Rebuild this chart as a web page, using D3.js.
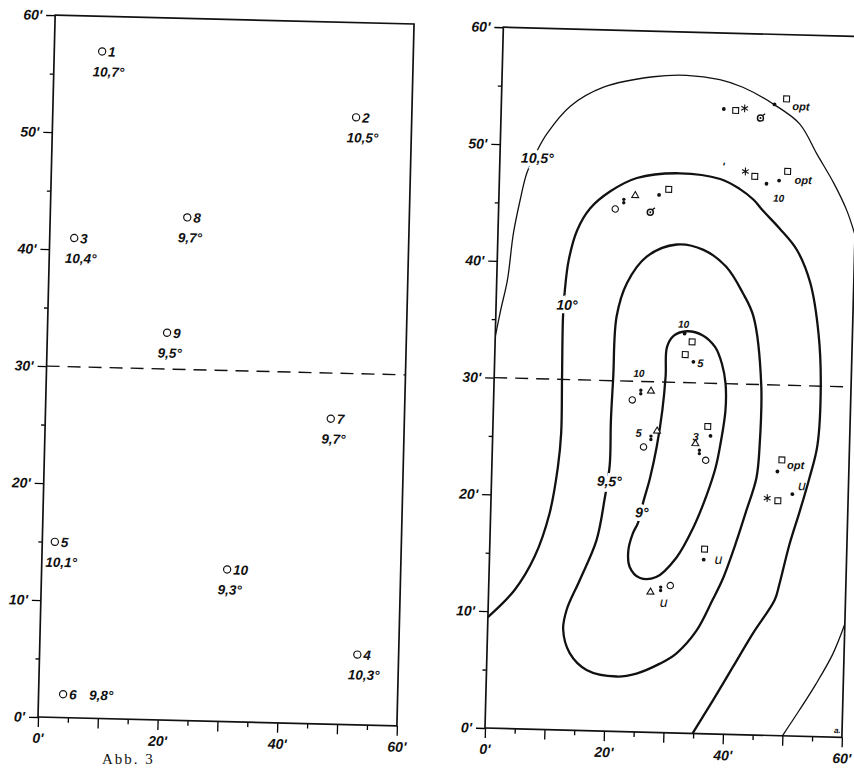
<!DOCTYPE html>
<html>
<head>
<meta charset="utf-8">
<script src="https://cdn.jsdelivr.net/npm/d3@7"></script>
<style>
  body { margin: 0; background: #fff; }
  svg text { font-family: "Liberation Sans", Arial, sans-serif; font-style: italic; font-weight: bold; fill: #111; }
  .tick text { font-size: 14px; }
  .tick line { stroke-width: 1.3; }
</style>
</head>
<body>
<svg id="chart" width="854" height="768"></svg>
<script>
// left panel: stations (minutes of arc) and their temperatures
const stationIds = ['1', '2', '3', '4', '5', '6', '7', '8', '9', '10'];
const stationX = [8.0, 50.7, 4.1, 53.1, 2.1, 4.1, 47.7, 22.9, 20.0, 31.0];
const stationY = [57.0, 51.9, 41.0, 6.0, 15.0, 2.0, 26.1, 43.0, 33.1, 13.0];
const stationTemp = ['10,7°', '10,5°', '10,4°', '10,3°', '10,1°', '9,8°', '9,7°', '9,7°', '9,5°', '9,3°'];

const majorTicks = [0, 10, 20, 30, 40, 50, 60];
const minorTicks = [5, 15, 25, 35, 45, 55];
const xLabelTicks = [0, 20, 40, 60];
const splitLat = 30;

// right panel: isotherms
const iso105Upper = [[0, 33.5], [0.8, 35.8], [1.8, 38.4], [2.6, 42.4], [3.6, 45.3], [4.6, 47.6], [6.2, 49.5], [7.8, 51.0],
  [11.6, 53.4], [17.1, 55.1], [25.4, 56.1], [31.0, 56.3], [36.6, 56.0], [40.5, 55.4], [45.8, 54.0], [50.2, 52.4],
  [53.3, 49.8], [56.2, 47.4], [58.5, 45.1], [60, 43.0]];
const iso105Lower = [[50.0, 0], [52.7, 2.2], [55.4, 4.5], [58.1, 7.1], [60, 9.7]];
const iso10 = [[0, 9.5], [4.4, 11.9], [7.6, 14.8], [9.9, 18.5], [11.1, 22.5], [11.5, 25.4], [11.4, 30.2], [11.3, 35.4],
  [11.5, 37.7], [12.0, 40.2], [13.3, 42.8], [15.4, 44.7], [18.7, 46.2], [23.1, 47.4], [30.3, 47.9], [37.1, 47.5],
  [40.4, 46.7], [42.8, 45.8], [44.4, 44.9], [47.3, 43.4], [50.3, 41.6], [52.7, 38.8], [54.3, 34.5], [54.9, 30.2],
  [54.6, 24.9], [53.4, 22.1], [51.9, 19.2], [50.3, 16.3], [48.8, 12.9], [48.1, 11.6], [44.6, 8.7], [41.4, 5.8],
  [38.2, 2.9], [34.9, 0]];
const iso95 = [[20.0, 30.3], [20.3, 35.5], [21.9, 38.4], [25.1, 40.7], [30.1, 41.8], [34.6, 41.4], [38.5, 40.0],
  [41.4, 37.8], [43.3, 35.8], [44.9, 30.0], [44.9, 24.8], [44.5, 22.0], [42.9, 19.1], [41.4, 16.5], [39.3, 13.3],
  [37.7, 11.5], [35.1, 8.8], [31.8, 6.8], [29.1, 5.9], [25.2, 5.0], [21.9, 4.7], [16.8, 5.2], [13.9, 6.6],
  [12.7, 8.6], [13.2, 10.3], [15.3, 12.9], [17.9, 16.3], [19.1, 19.9], [19.8, 22.8], [19.8, 26.6]];
const iso9 = [[28.8, 30.5], [28.9, 33.0], [30.0, 34.0], [32.2, 34.4], [34.8, 34.1], [37.0, 33.1], [38.2, 31.7],
  [38.9, 30.0], [39.0, 27.7], [38.3, 24.8], [37.6, 22.8], [36.2, 20.4], [34.1, 17.6], [31.4, 15.0], [28.1, 13.3],
  [25.3, 13.2], [23.6, 14.1], [23.3, 15.5], [24.0, 17.0], [24.8, 17.9], [25.6, 19.7], [26.6, 21.7], [27.6, 24.4],
  [28.4, 27.6]];
const isoLabels = [['10,5°', 6.3, 48.9], ['10°', 11.9, 36.4], ['9,5°', 19.8, 21.4], ['9°', 25.4, 18.8]];

// right panel: observation symbols
const markers = [
  ['dot', 37.4, 53.5], ['square', 39.4, 53.4], ['star', 40.9, 53.6], ['theta', 43.6, 52.8], ['dot', 45.9, 54.0], ['square', 47.9, 54.5],
  ['star', 41.3, 48.2], ['square', 42.9, 47.8], ['dot', 44.9, 47.2], ['dot', 47.0, 47.5], ['square', 48.4, 48.3],
  ['circle', 19.6, 44.7], ['eight', 21.0, 45.4], ['triangle', 22.9, 45.9], ['theta', 25.5, 44.5], ['dot', 26.9, 46.0], ['square', 28.5, 46.5],
  ['dot', 31.8, 34.2], ['square', 33.1, 33.5], ['square', 32.0, 32.4], ['dot', 33.4, 31.8],
  ['eight', 24.7, 29.1], ['triangle', 26.4, 29.2], ['circle', 23.3, 28.4],
  ['triangle', 27.6, 25.8], ['eight', 26.6, 25.2], ['circle', 25.4, 24.4],
  ['square', 36.1, 26.3], ['dot', 36.6, 25.5], ['triangle', 34.1, 24.8], ['eight', 34.8, 24.1], ['circle', 35.9, 23.4],
  ['square', 48.7, 23.6], ['dot', 48.0, 22.6], ['dot', 50.6, 20.7], ['star', 46.4, 20.3], ['square', 48.2, 20.1],
  ['square', 36.1, 15.8], ['dot', 36.0, 14.9],
  ['triangle', 27.2, 12.0], ['eight', 28.9, 12.3], ['circle', 30.5, 12.6]
];
const markerNotes = [
  ['opt', 48.9, 53.9], ['opt', 49.6, 47.6], ["'", 37.6, 48.6], ['10', 47.0, 46.0], ['10', 31.6, 35.0], ['5', 34.6, 31.7],
  ['10', 24.3, 30.7], ['5', 24.5, 25.6], ['3', 34.1, 25.4], ['opt', 49.6, 23.2], ['u', 52.2, 21.5],
  ['u', 38.5, 15.0], ['u', 29.5, 11.2], ['a.', 59.2, 0.6]
];

const svg = d3.select('#chart');
svg.append('rect').attr('width', 854).attr('height', 768).attr('fill', '#fff');

// one framed 60'x60' panel, slightly tilted like the scan
function makePanel(ox, oy, w, h, angle, id) {
  const g = svg.append('g').attr('transform', `translate(${ox},${oy}) rotate(${angle}) translate(0,${-h})`);
  const x = d3.scaleLinear().domain([0, 60]).range([0, w]);
  const y = d3.scaleLinear().domain([0, 60]).range([h, 0]);

  g.append('clipPath').attr('id', id).append('rect').attr('width', w).attr('height', h);

  g.append('g').attr('transform', `translate(0,${h})`)
    .call(d3.axisBottom(x).tickValues(minorTicks).tickSize(5).tickFormat(''))
    .call(a => a.select('.domain').remove());
  g.append('g').attr('transform', `translate(0,${h})`)
    .call(d3.axisBottom(x).tickValues(majorTicks).tickSize(10).tickPadding(6)
      .tickFormat(d => xLabelTicks.includes(d) ? d + "'" : ''))
    .call(a => a.select('.domain').remove());
  g.append('g')
    .call(d3.axisLeft(y).tickValues(minorTicks).tickSize(4).tickFormat(''))
    .call(a => a.select('.domain').remove());
  g.append('g')
    .call(d3.axisLeft(y).tickValues(majorTicks).tickSize(9).tickPadding(4).tickFormat(d => d + "'"))
    .call(a => a.select('.domain').remove());

  g.append('rect').attr('width', w).attr('height', h)
    .attr('fill', 'none').attr('stroke', '#111').attr('stroke-width', 1.7);

  g.append('line')
    .attr('x1', x(0)).attr('x2', x(60)).attr('y1', y(splitLat)).attr('y2', y(splitLat))
    .attr('stroke', '#111').attr('stroke-width', 1.4).attr('stroke-dasharray', '13,8');

  return { g, x, y };
}

// ---- left panel: stations
const L = makePanel(38, 717, 359, 702, 1.4, 'clipL');
const st = L.g.append('g');
stationIds.forEach((id, i) => {
  const cx = L.x(stationX[i]), cy = L.y(stationY[i]);
  st.append('circle').attr('cx', cx).attr('cy', cy).attr('r', 3.6)
    .attr('fill', '#fff').attr('stroke', '#111').attr('stroke-width', 1.2);
  st.append('text').attr('x', cx + 6).attr('y', cy + 5).attr('font-size', 13.5).text(id);
  const inline = id === '6';
  st.append('text')
    .attr('x', inline ? cx + 26 : cx - 9)
    .attr('y', inline ? cy + 5 : cy + 25)
    .attr('font-size', 13.5).text(stationTemp[i]);
});

// ---- right panel: isotherms and observations
const R = makePanel(485, 728, 357, 701, 1.5, 'clipR');
const iso = R.g.append('g').attr('clip-path', 'url(#clipR)').attr('fill', 'none').attr('stroke', '#111');
const open = d3.line().x(d => R.x(d[0])).y(d => R.y(d[1])).curve(d3.curveCatmullRom);
const closed = d3.line().x(d => R.x(d[0])).y(d => R.y(d[1])).curve(d3.curveCatmullRomClosed);

iso.append('path').attr('d', open(iso105Upper)).attr('stroke-width', 1.3);
iso.append('path').attr('d', open(iso105Lower)).attr('stroke-width', 1.3);
iso.append('path').attr('d', open(iso10)).attr('stroke-width', 2.3);
iso.append('path').attr('d', closed(iso95)).attr('stroke-width', 2.3);
iso.append('path').attr('d', closed(iso9)).attr('stroke-width', 2.3);

R.g.append('g').selectAll('text').data(isoLabels).join('text')
  .attr('x', d => R.x(d[1])).attr('y', d => R.y(d[2]))
  .attr('dy', '0.36em').attr('text-anchor', 'middle').attr('font-size', 14)
  .attr('stroke', '#fff').attr('stroke-width', 7).attr('paint-order', 'stroke')
  .text(d => d[0]);

const symbolPath = {
  square: d3.symbol(d3.symbolSquare2, 44)(),
  circle: d3.symbol(d3.symbolCircle, 32)(),
  triangle: d3.symbol(d3.symbolTriangle2, 34)(),
  star: d3.symbol(d3.symbolAsterisk, 42)()
};
const mk = R.g.append('g');
markers.forEach(([type, mx, my]) => {
  const s = mk.append('g').attr('transform', `translate(${R.x(mx)},${R.y(my)})`);
  if (type === 'dot') {
    s.append('circle').attr('r', 1.9).attr('fill', '#111');
  } else if (type === 'eight') {
    s.append('circle').attr('cy', -1.7).attr('r', 1.7).attr('fill', '#111');
    s.append('circle').attr('cy', 1.7).attr('r', 1.7).attr('fill', '#111');
  } else if (type === 'theta') {
    s.append('circle').attr('r', 3).attr('fill', 'none').attr('stroke', '#111').attr('stroke-width', 1.5);
    s.append('circle').attr('r', 1).attr('fill', '#111');
    s.append('line').attr('x1', 2).attr('y1', -2.5).attr('x2', 4.5).attr('y2', -4.5)
      .attr('stroke', '#111').attr('stroke-width', 1.3);
  } else {
    s.append('path').attr('d', symbolPath[type])
      .attr('fill', type === 'star' ? 'none' : '#fff').attr('stroke', '#111').attr('stroke-width', 1.1);
  }
});

R.g.append('g').selectAll('text').data(markerNotes).join('text')
  .attr('x', d => R.x(d[1])).attr('y', d => R.y(d[2]))
  .attr('dy', '0.36em')
  .attr('text-anchor', d => d[0] === 'opt' ? 'start' : 'middle')
  .attr('font-size', d => d[0] === 'u' ? 14 : d[0] === 'a.' ? 8 : d[0] === '10' ? 10 : 11)
  .style('font-weight', d => d[0] === 'u' ? 'normal' : 'bold')
  .text(d => d[0]);

// figure caption at the foot of the page
svg.append('text').attr('x', 102).attr('y', 764)
  .style('font-family', '"Liberation Serif", serif').style('font-style', 'normal').style('font-weight', 'normal')
  .attr('font-size', 15).attr('letter-spacing', 2).text('Abb. 3');
</script>
</body>
</html>
